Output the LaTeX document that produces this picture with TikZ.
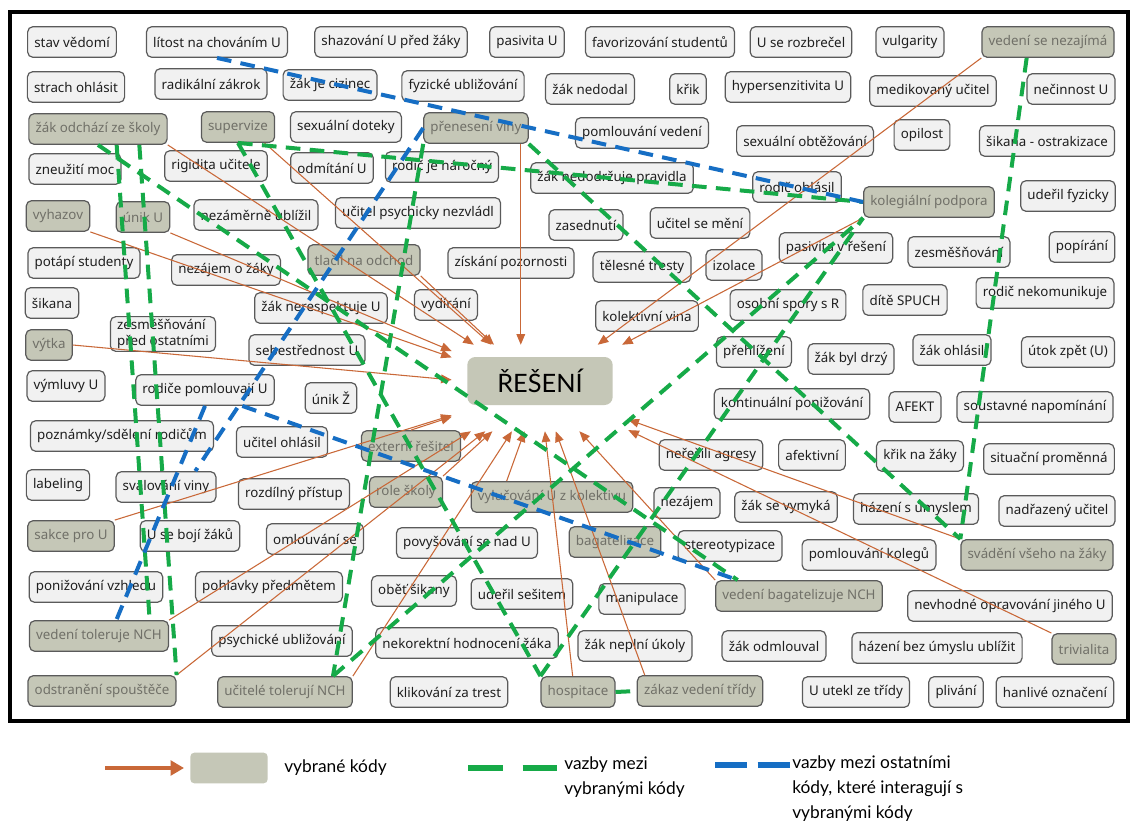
\documentclass[tikz,border=0pt]{standalone}
\usepackage{fontspec}
\setmainfont{Noto Sans}
\newfontfamily\gillfont{Lato}
\usepackage{tikz}
\usetikzlibrary{arrows.meta}

\definecolor{kodfill}{RGB}{241,241,241}
\definecolor{kodline}{RGB}{90,90,90}
\definecolor{kodtext}{RGB}{30,30,30}
\definecolor{vybfill}{RGB}{197,199,183}
\definecolor{vybtext}{RGB}{112,112,104}
\definecolor{oranz}{RGB}{201,104,56}
\definecolor{zelena}{RGB}{22,170,72}
\definecolor{modra}{RGB}{22,110,196}

\tikzset{
  kod/.style={draw=kodline, fill=kodfill, text=kodtext, rounded corners=4pt,
    line width=0.9pt, inner xsep=5pt, inner ysep=2pt, minimum height=23pt,
    font=\fontsize{10}{12}\selectfont},
  vyb/.style={kod, fill=vybfill, text=vybtext},
  sipka/.style={draw=oranz, line width=0.8pt, -{Triangle[length=8pt,width=6.5pt]}},
  vazba/.style={draw=zelena, line width=3pt, dash pattern=on 11pt off 7pt},
  ostatni/.style={vazba, draw=modra},
  legtext/.style={font=\gillfont\fontsize{13}{19}\selectfont, align=left, inner sep=0pt}
}

\begin{document}
\begin{tikzpicture}[x=0.75pt, y=-0.75pt]
  \useasboundingbox (0,0) rectangle (1133,825);
  \fill[white] (0,0) rectangle (1133,825);
  \draw[line width=3.4pt] (10,12) rectangle (1128,721);

  \node[kod] (stav) at (72,42) {stav vědomí};
  \node[kod] (litost) at (217,42) {lítost na chováním U};
  \node[kod] (shazovani) at (391,42) {shazování U před žáky};
  \node[kod] (pasivitaU) at (527,42) {pasivita U};
  \node[kod] (favor) at (660,42) {favorizování studentů};
  \node[kod] (rozbrecel) at (801,42) {U se rozbrečel};
  \node[kod] (vulgar) at (910,42) {vulgarity};
  \node[vyb] (vednezaj) at (1048,42) {vedení se nezajímá};

  \node[kod] (strach) at (76,87) {strach ohlásit};
  \node[kod] (radikal) at (211,84) {radikální zákrok};
  \node[kod] (cizinec) at (330,85) {žák je cizinec};
  \node[kod] (fyzicke) at (463,86) {fyzické ubližování};
  \node[kod] (nedodal) at (590,89) {žák nedodal};
  \node[kod] (krik) at (688,89) {křik};
  \node[kod] (hypersenz) at (788,87) {hypersenzitivita U};
  \node[kod] (medik) at (933,91) {medikovaný učitel};
  \node[kod] (necinnost) at (1071,89) {nečinnost U};

  \node[vyb] (odchazi) at (98,129) {žák odchází ze školy};
  \node[vyb] (supervize) at (238,127) {supervize};
  \node[kod] (doteky) at (346,127) {sexuální doteky};
  \node[vyb] (preneseni) at (476,128) {přenesení viny};
  \node[kod] (pomlvedeni) at (642,133) {pomlouvání vedení};
  \node[kod] (obtezovani) at (805,141) {sexuální obtěžování};
  \node[kod] (opilost) at (922,135) {opilost};
  \node[kod] (ostrakizace) at (1047,141) {šikana - ostrakizace};

  \node[kod] (zneuziti) at (75,169) {zneužití moc};
  \node[kod] (rigidita) at (216,166) {rigidita učitele};
  \node[kod] (odmitani) at (332,168) {odmítání U};
  \node[kod] (narocny) at (442,167) {rodič je náročný};
  \node[kod] (pravidla) at (612,178) {žák nedodržuje pravidla};
  \node[kod] (rodohlasil) at (797,187) {rodič ohlásil};
  \node[vyb] (kolegialni) at (929,202) {kolegiální podpora};
  \node[kod] (uderil) at (1068,196) {udeřil fyzicky};

  \node[vyb] (vyhazov) at (58,216) {vyhazov};
  \node[vyb] (unikU) at (143,217) {únik U};
  \node[kod] (nezamerne) at (256,215) {nezáměrně ublížil};
  \node[kod] (nezvladl) at (418,213) {učitel psychicky nezvládl};
  \node[kod] (zasednuti) at (586,225) {zasednutí};
  \node[kod] (meni) at (700,223) {učitel se mění};
  \node[kod] (pasivresen) at (836,248) {pasivita v řešení};
  \node[kod] (zesmesnovani) at (959,252) {zesměšňování};
  \node[kod] (popirani) at (1082,247) {popírání};

  \node[kod] (potapi) at (84,263) {potápí studenty};
  \node[kod] (nezajemzaky) at (226,270) {nezájem o žáky};
  \node[vyb] (tlacil) at (364,260) {tlačil na odchod};
  \node[kod] (pozornost) at (511,263) {získání pozornosti};
  \node[kod] (telesne) at (642,267) {tělesné tresty};
  \node[kod] (izolace) at (734,265) {izolace};

  \node[kod] (sikana) at (52,303) {šikana};
  \node[kod] (nerespektuje) at (321,308) {žák nerespektuje U};
  \node[kod] (vydirani) at (446,305) {vydírání};
  \node[kod] (vina) at (647,316) {kolektivní vina};
  \node[kod] (spory) at (788,305) {osobní spory s R};
  \node[kod] (spuch) at (905,300) {dítě SPUCH};
  \node[kod] (nekomunikuje) at (1045,293) {rodič nekomunikuje};

  \node[kod, align=left] (predostatnimi) at (163,334) {zesměšňování\\před ostatními};
  \node[vyb] (vytka) at (49,345) {výtka};
  \node[kod] (sebestred) at (307,350) {sebestřednost U};
  \node[kod] (prehlizeni) at (754,352) {přehlížení};
  \node[kod] (drzy) at (851,359) {žák byl drzý};
  \node[kod] (zakohlasil) at (952,350) {žák ohlásil};
  \node[kod] (utok) at (1068,352) {útok zpět (U)};

  \node[kod] (vymluvy) at (66,386) {výmluvy U};
  \node[kod] (pomlouvaji) at (205,390) {rodiče pomlouvají U};
  \node[kod] (unikZ) at (331,398) {únik Ž};
  \node[kod] (kontinualni) at (792,404) {kontinuální ponižování};
  \node[kod] (afekt) at (915,407) {AFEKT};
  \node[kod] (napominani) at (1035,407) {soustavné napomínání};

  \node[kod] (poznamky) at (122,436) {poznámky/sdělení rodičům};
  \node[kod] (ucohlasil) at (282,442) {učitel ohlásil};
  \node[vyb] (externi) at (411,446) {externí řešitel};
  \node[kod] (neresili) at (711,455) {neřešili agresy};
  \node[kod] (afektivni) at (812,455) {afektivní};
  \node[kod] (krikzaky) at (920,456) {křik na žáky};
  \node[kod] (situacni) at (1049,459) {situační proměnná};

  \node[kod] (labeling) at (58,485) {labeling};
  \node[kod] (svalovani) at (166,487) {svalování viny};
  \node[kod] (rozdilny) at (294,494) {rozdílný přístup};
  \node[vyb] (role) at (406,492) {role školy};
  \node[vyb] (vylucovani) at (552,497) {vylučování U z kolektivu};
  \node[kod] (nezajem) at (687,503) {nezájem};
  \node[kod] (vymyka) at (786,507) {žák se vymyká};
  \node[kod] (umyslem) at (916,509) {házení s úmyslem};
  \node[kod] (nadrazeny) at (1057,511) {nadřazený učitel};

  \node[vyb] (sakce) at (71,536) {sakce pro U};
  \node[kod] (boji) at (190,536) {U se bojí žáků};
  \node[kod] (omlouvani) at (315,539) {omlouvání se};
  \node[kod] (povysovani) at (467,543) {povyšování se nad U};
  \node[vyb] (bagatel) at (615,542) {bagatelizace};
  \node[kod] (stereo) at (730,546) {stereotypizace};
  \node[kod] (pomlkoleg) at (869,555) {pomlouvání kolegů};
  \node[vyb] (svadeni) at (1037,555) {svádění všeho na žáky};

  \node[kod] (vzhled) at (96,587) {ponižování vzhledu};
  \node[kod] (pohlavky) at (269,587) {pohlavky předmětem};
  \node[kod] (obet) at (414,591) {oběť šikany};
  \node[kod] (sesitem) at (522,594) {udeřil sešitem};
  \node[kod] (manipulace) at (642,599) {manipulace};
  \node[vyb] (vedbagat) at (799,596) {vedení bagatelizuje NCH};
  \node[kod] (opravovani) at (1010,606) {nevhodné opravování jiného U};

  \node[vyb] (vedtoler) at (99,636) {vedení toleruje NCH};
  \node[kod] (psychicke) at (282,641) {psychické ubližování};
  \node[kod] (nekorektni) at (467,643) {nekorektní hodnocení žáka};
  \node[kod] (neplni) at (635,646) {žák neplní úkoly};
  \node[kod] (odmlouval) at (774,646) {žák odmlouval};
  \node[kod] (bezumyslu) at (937,648) {házení bez úmyslu ublížit};
  \node[vyb] (trivialita) at (1084,649) {trivialita};

  \node[vyb] (odstraneni) at (102,691) {odstranění spouštěče};
  \node[vyb] (ucitele) at (285,692) {učitelé tolerují NCH};
  \node[kod] (klikovani) at (449,692) {klikování za trest};
  \node[vyb] (hospitace) at (578,692) {hospitace};
  \node[vyb] (zakaz) at (700,691) {zákaz vedení třídy};
  \node[kod] (utekl) at (856,692) {U utekl ze třídy};
  \node[kod] (plivani) at (956,692) {plivání};
  \node[kod] (hanlive) at (1055,692) {hanlivé označení};

  \node[fill=vybfill, rounded corners=6pt, minimum width=109pt, minimum height=36pt,
    font=\gillfont\fontsize{19}{22}\selectfont] (reseni) at (540,381) {ŘEŠENÍ};
  \node[minimum width=132pt, minimum height=64.5pt, inner sep=0pt] (hub) at (540,388) {};

  \draw[sipka] (vednezaj.south west) -- (hub);
  \draw[sipka] (kolegialni.south west) -- (hub);
  \draw[sipka] (odchazi.south east) -- (hub);
  \draw[sipka] ([xshift=-8pt]supervize.south east) -- (hub);
  \draw[sipka] (tlacil.south east) -- (hub);
  \draw[sipka] ([xshift=-6pt]preneseni.south east) -- ([xshift=-6pt]preneseni.south east |- hub.north);
  \draw[sipka] (vyhazov.south east) -- (hub);
  \draw[sipka] (unikU.south east) -- (hub);
  \draw[sipka] (vytka.east) -- (hub);
  \draw[sipka] (sakce.north east) -- (hub);
  \draw[sipka] (vedtoler.north east) -- (hub);
  \draw[sipka] (odstraneni.north east) -- (hub);
  \draw[sipka] (ucitele.north east) -- (hub);
  \draw[sipka] (externi.north) -- (hub);
  \draw[sipka] (role.north east) -- (hub);
  \draw[sipka] ([xshift=-34pt]vylucovani.north) -- (hub);
  \draw[sipka] ([xshift=-4pt]hospitace.north) -- (hub);
  \draw[sipka] ([xshift=6pt]zakaz.north west) -- (hub);
  \draw[sipka] (vedbagat.north west) -- (hub);
  \draw[sipka] (svadeni.north west) -- (hub);
  \draw[sipka] (trivialita.north west) -- (hub);

  \draw[vazba] ([xshift=-16pt]vednezaj.south) -- (svadeni.north west);
  \draw[vazba] (preneseni.south east) -- (svadeni.north west);
  \draw[vazba] (supervize.south) -- (kolegialni.west);
  \draw[vazba] (supervize.south) -- (hospitace.north west);
  \draw[vazba] (preneseni.south west) -- ([xshift=36pt]ucitele.north);
  \draw[vazba] ([xshift=36pt]ucitele.north) -- (kolegialni.south west);
  \draw[vazba] (hospitace.north west) -- (kolegialni.south west);
  \draw[vazba] (hospitace.east) -- (zakaz.west);
  \draw[vazba] (odchazi.south) -- ([xshift=-46pt]vedbagat.north);
  \draw[vazba] ([xshift=14pt]odchazi.south) -- ([xshift=38pt]vedtoler.north);
  \draw[vazba] ([xshift=31pt]odchazi.south) -- (odstraneni.north east);

  \draw[ostatni] (litost.south) -- (kolegialni.west);
  \draw[ostatni] (preneseni.west) -- ([xshift=22pt]svalovani.north);
  \draw[ostatni] (pomlouvaji.south) -- ([xshift=13pt]vedtoler.north);
  \draw[ostatni] ([xshift=28pt]pomlouvaji.south) -- ([xshift=-46pt]vedbagat.north);

  \coordinate (legA) at (105,768);
  \coordinate (legB) at (184,768);
  \draw[draw=oranz, line width=2.4pt, -{Triangle[length=10pt,width=11pt]}] (legA) -- (legB);
  \node[fill=vybfill, rounded corners=3pt, minimum width=58pt, minimum height=23pt] (legvyb) at (229,768) {};
  \node[legtext, anchor=west] (legvybt) at (284,768) {vybrané kódy};
  \coordinate (legG1) at (468,768);
  \coordinate (legG2) at (560,768);
  \draw[draw=zelena, line width=4pt, dash pattern=on 26pt off 15pt] (legG1) -- (legG2);
  \node[legtext, anchor=north west] (legvaz) at (564,756) {vazby mezi\\vybranými kódy};
  \coordinate (legM1) at (715,765);
  \coordinate (legM2) at (790,765);
  \draw[draw=modra, line width=4pt, dash pattern=on 24pt off 8pt] (legM1) -- (legM2);
  \node[legtext, anchor=north west] (legost) at (792,755) {vazby mezi ostatními\\kódy, které interagují s\\vybranými kódy};
\end{tikzpicture}
\end{document}
